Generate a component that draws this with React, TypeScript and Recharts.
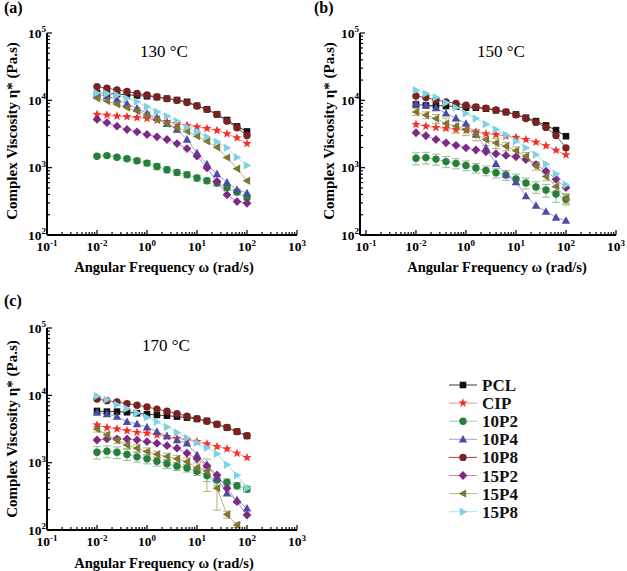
import React from 'react';
import { LineChart, Line, XAxis, YAxis, ErrorBar } from 'recharts';

const FONT = "'Liberation Serif', 'Times New Roman', serif";

// angular frequency (rad/s), 5 points per decade
const freq = [0.1, 0.158, 0.251, 0.398, 0.631, 1, 1.58, 2.51, 3.98, 6.31, 10, 15.8, 25.1, 39.8, 63.1, 100];

// tick labels exactly as printed on the figure
const xTickValues = [0.01, 0.1, 1, 10, 100, 1000];
const xTickExp = ['-1', '-2', '0', '1', '2', '3'];
const yTickValues = [100, 1000, 10000, 100000];
const yTickExp = ['2', '3', '4', '5'];

const temps = ['130 °C', '150 °C', '170 °C'];
const panelTags = ['(a)', '(b)', '(c)'];

// 130 °C
const pcl130 = [12700, 12600, 12400, 12100, 11800, 11500, 11200, 10600, 10100, 9500, 8300, 7350, 6200, 5100, 4100, 3450];
const cip130 = [6180, 6040, 5830, 5710, 5520, 5380, 5080, 4810, 4490, 4240, 4050, 3820, 3570, 3180, 2770, 2280];
const p102_130 = [1480, 1510, 1430, 1360, 1270, 1170, 1040, 933, 851, 787, 702, 640, 592, 508, 434, 361];
const p104_130 = [12100, 11600, 10300, 8900, 7600, 6400, 5520, 4490, 3690, 2620, 1660, 1130, 805, 604, 470, 419];
const p108_130 = [16000, 15100, 14300, 13500, 12700, 12000, 11200, 10600, 10000, 9250, 8230, 7350, 6180, 4910, 3910, 3010];
const p152_130 = [5200, 4650, 4130, 3690, 3410, 3110, 2870, 2620, 2280, 1920, 1480, 990, 625, 395, 314, 296];
const p154_130 = [10700, 9770, 8710, 7780, 6920, 6030, 5200, 4490, 3920, 3480, 2940, 2470, 2010, 1410, 966, 640];
const p158_130 = [12800, 12600, 12000, 10700, 9570, 8050, 6780, 5830, 4910, 3990, 3410, 2870, 2420, 1970, 1430, 1080];
const err102_130 = [60, 60, 70, 80, 100, 110, 110, 100, 90, 80, 70, 60, 60, 50, 40, 30];

// 150 °C
const pcl150 = [8710, 8410, 8410, 8220, 8050, 7780, 7780, 7520, 7100, 6690, 6180, 5520, 4910, 4240, 3610, 2930];
const cip150 = [4390, 4130, 3950, 3850, 3690, 3590, 3390, 3190, 3090, 2930, 2810, 2620, 2390, 2110, 1810, 1550];
const p102_150 = [1380, 1410, 1340, 1230, 1160, 1080, 991, 908, 842, 778, 681, 592, 516, 465, 406, 339];
const p104_150 = [8930, 8490, 7690, 6400, 5430, 4520, 3110, 1970, 1140, 787, 611, 379, 273, 223, 182, 164];
const p108_150 = [11600, 11000, 10100, 9500, 9020, 8480, 8000, 7650, 7210, 6730, 6120, 5380, 4700, 3960, 3010, 1970];
const p152_150 = [3300, 2980, 2620, 2340, 2150, 1970, 1830, 1720, 1610, 1520, 1450, 1320, 1110, 891, 675, 505];
const p154_150 = [6730, 6030, 5350, 4530, 4140, 3690, 3110, 2620, 2330, 2080, 1790, 1480, 1070, 741, 526, 352];
const p158_150 = [14100, 12600, 11100, 9230, 7780, 6400, 5380, 4430, 3690, 3050, 2470, 1970, 1560, 1130, 805, 557];
const err102_150 = [280, 280, 250, 230, 200, 180, 160, 150, 140, 130, 120, 110, 100, 100, 100, 60];
const err154_150 = [800, 700, 800, 900, 900, 700, 600, 500, 400, 300, 250, 200, 150, 100, 80, 60];

// 170 °C
const pcl170 = [5860, 5730, 5730, 5610, 5420, 5240, 5110, 4990, 4830, 4670, 4460, 4170, 3720, 3310, 2890, 2500];
const cip170 = [3630, 3310, 3170, 2990, 2830, 2740, 2580, 2430, 2300, 2170, 2050, 1900, 1730, 1600, 1380, 1190];
const p102_170 = [1430, 1480, 1430, 1320, 1220, 1140, 1050, 966, 887, 834, 745, 645, 553, 513, 454, 404];
const p104_170 = [5530, 5290, 4820, 4060, 3760, 3360, 2890, 2490, 2170, 1940, 1300, 925, 593, 351, 279, 210];
const p108_170 = [8790, 8340, 7980, 7530, 7130, 6730, 6240, 5810, 5350, 4910, 4510, 4120, 3720, 3330, 2890, 2510];
const p152_170 = [2170, 2250, 2250, 2250, 2170, 2050, 1940, 1790, 1640, 1380, 1140, 902, 656, 417, 263, 167];
const p154_170 = [3150, 2580, 2170, 1830, 1640, 1460, 1330, 1230, 1140, 1030, 843, 753, 417, 170, 119, null];
const p158_170 = [9790, 8630, 7250, 6340, 5470, 4700, 4030, 3390, 2810, 2330, 1980, 1660, 1360, 933, 650, 417];
const err102_170 = [300, 300, 280, 240, 200, 180, 160, 150, 120, 110, 100, 120, 100, 60, 50, 40];
const err154_170 = [300, 250, 250, 200, 200, 200, 150, 150, 150, 150, 150, 380, 220, 20, 10, 0];

const series = [
  { key: 'pcl', name: 'PCL', color: '#111111', line: '#3a3a3a', shape: 'square' },
  { key: 'cip', name: 'CIP', color: '#f2302c', line: '#f28a86', shape: 'star' },
  { key: 'p102', name: '10P2', color: '#26803a', line: '#9fcaa3', shape: 'circle' },
  { key: 'p104', name: '10P4', color: '#4c4ca4', line: '#a0a0d6', shape: 'triUp' },
  { key: 'p108', name: '10P8', color: '#7a2222', line: '#8a4c4c', shape: 'circle' },
  { key: 'p152', name: '15P2', color: '#7d2a85', line: '#c585cb', shape: 'diamond' },
  { key: 'p154', name: '15P4', color: '#7e7633', line: '#bab384', shape: 'triLeft' },
  { key: 'p158', name: '15P8', color: '#80d2e3', line: '#abe2ed', shape: 'triRight' },
];

const rows130 = freq.map((f, i) => ({
  f, pcl: pcl130[i], cip: cip130[i], p102: p102_130[i], p104: p104_130[i], p108: p108_130[i],
  p152: p152_130[i], p154: p154_130[i], p158: p158_130[i], e102: err102_130[i],
}));
const rows150 = freq.map((f, i) => ({
  f, pcl: pcl150[i], cip: cip150[i], p102: p102_150[i], p104: p104_150[i], p108: p108_150[i],
  p152: p152_150[i], p154: p154_150[i], p158: p158_150[i], e102: err102_150[i], e154: err154_150[i],
}));
const rows170 = freq.map((f, i) => ({
  f, pcl: pcl170[i], cip: cip170[i], p102: p102_170[i], p104: p104_170[i], p108: p108_170[i],
  p152: p152_170[i], p154: p154_170[i], p158: p158_170[i], e102: err102_170[i], e154: err154_170[i],
}));

// major + minor log ticks
const logTicks = (lo: number, hi: number) => {
  const out: number[] = [];
  for (let d = lo; d < hi * 0.99; d *= 10) for (let k = 1; k < 10; k++) out.push(d * k);
  out.push(hi);
  return out;
};
const xTicks = logTicks(0.01, 1000);
const yTicks = logTicks(100, 100000);
const findIdx = (arr: number[], v: number) => arr.findIndex((t) => Math.abs(t - v) / t < 1e-6);

function XTick(props: any) {
  const { x, y, payload } = props;
  const i = findIdx(xTickValues, payload.value);
  const major = i >= 0;
  return (
    <g>
      <line x1={x} x2={x} y1={y} y2={y - (major ? 5 : 3)} stroke="#000" strokeWidth={1.2} />
      {major && (
        <text x={x} y={y + 16} textAnchor="middle" fontFamily={FONT} fontWeight="bold" fontSize={13.5} fill="#000">
          10<tspan dy={-5.5} fontSize={9}>{xTickExp[i]}</tspan>
        </text>
      )}
    </g>
  );
}

function YTick(props: any) {
  const { x, y, payload } = props;
  const i = findIdx(yTickValues, payload.value);
  const major = i >= 0;
  return (
    <g>
      <line x1={x} x2={x + (major ? 5 : 3)} y1={y} y2={y} stroke="#000" strokeWidth={1.2} />
      {major && (
        <text x={x - 1} y={y + 4.5} textAnchor="end" fontFamily={FONT} fontWeight="bold" fontSize={13.5} fill="#000">
          10<tspan dy={-5.5} fontSize={9}>{yTickExp[i]}</tspan>
        </text>
      )}
    </g>
  );
}

function Marker({ shape, cx, cy, fill }: { shape: string; cx: number; cy: number; fill: string }) {
  if (shape === 'square') return <rect x={cx - 3.3} y={cy - 3.3} width={6.6} height={6.6} fill={fill} />;
  if (shape === 'circle') return <circle cx={cx} cy={cy} r={3.7} fill={fill} />;
  if (shape === 'diamond')
    return <polygon points={`${cx},${cy - 4.4} ${cx + 4.4},${cy} ${cx},${cy + 4.4} ${cx - 4.4},${cy}`} fill={fill} />;
  if (shape === 'triUp')
    return <polygon points={`${cx},${cy - 4.4} ${cx + 4.2},${cy + 3.2} ${cx - 4.2},${cy + 3.2}`} fill={fill} />;
  if (shape === 'triLeft')
    return <polygon points={`${cx - 4.4},${cy} ${cx + 3.2},${cy - 4.2} ${cx + 3.2},${cy + 4.2}`} fill={fill} />;
  if (shape === 'triRight')
    return <polygon points={`${cx + 4.4},${cy} ${cx - 3.2},${cy - 4.2} ${cx - 3.2},${cy + 4.2}`} fill={fill} />;
  // star
  const pts: string[] = [];
  for (let k = 0; k < 10; k++) {
    const a = (-90 + k * 36) * (Math.PI / 180);
    const r = k % 2 === 0 ? 4.8 : 2.0;
    pts.push(`${cx + r * Math.cos(a)},${cy + r * Math.sin(a)}`);
  }
  return <polygon points={pts.join(' ')} fill={fill} />;
}

type PanelProps = {
  width: number;
  height: number;
  top: number;
  right: number;
  yAxisWidth: number;
  xAxisHeight: number;
  xDomain: [number, number];
  rows: any[];
  errs: string[];
};

function Panel({ width, height, top, right, yAxisWidth, xAxisHeight, xDomain, rows, errs }: PanelProps) {
  return (
    <LineChart width={width} height={height} data={rows} margin={{ top, right, left: 0, bottom: 0 }}>
      <XAxis
        dataKey="f"
        type="number"
        scale="log"
        domain={xDomain}
        allowDataOverflow
        ticks={xTicks}
        interval={0}
        tick={(p: any) => <XTick {...p} />}
        tickLine={false}
        tickSize={0}
        tickMargin={0}
        height={xAxisHeight}
        axisLine={{ stroke: '#000', strokeWidth: 2 }}
      />
      <YAxis
        type="number"
        scale="log"
        domain={[100, 100000]}
        allowDataOverflow
        ticks={yTicks}
        interval={0}
        tick={(p: any) => <YTick {...p} />}
        tickLine={false}
        tickSize={0}
        tickMargin={0}
        width={yAxisWidth}
        axisLine={{ stroke: '#000', strokeWidth: 2 }}
      />
      {series.map((s) => (
        <Line
          key={s.key}
          dataKey={s.key}
          name={s.name}
          stroke={s.line}
          strokeWidth={1}
          activeDot={false}
          isAnimationActive={false}
          dot={(p: any) =>
            p.cx == null || p.cy == null || p.value == null ? (
              <g key={`${s.key}-${p.index}`} />
            ) : (
              <Marker key={`${s.key}-${p.index}`} shape={s.shape} cx={p.cx} cy={p.cy} fill={s.color} />
            )
          }
        >
          {s.key === 'p102' && errs.includes('e102') && (
            <ErrorBar dataKey="e102" width={4} stroke="#8fbf93" strokeWidth={1} direction="y" />
          )}
          {s.key === 'p154' && errs.includes('e154') && (
            <ErrorBar dataKey="e154" width={4} stroke="#b8b07a" strokeWidth={1} direction="y" />
          )}
        </Line>
      ))}
    </LineChart>
  );
}

const YTitle = ({ x, y }: { x: number; y: number }) => (
  <text
    x={x}
    y={y}
    transform={`rotate(-90 ${x} ${y})`}
    textAnchor="middle"
    fontFamily={FONT}
    fontWeight="bold"
    fontSize={15}
    fill="#000"
  >
    Complex Viscosity η* (Pa.s)
  </text>
);

const XTitle = ({ x, y }: { x: number; y: number }) => (
  <text x={x} y={y} textAnchor="middle" fontFamily={FONT} fontWeight="bold" fontSize={14.5} fill="#000">
    Angular Frequency ω (rad/s)
  </text>
);

export default function App() {
  return (
    <div style={{ position: 'absolute', left: 0, top: 0, width: 627, height: 571, background: '#fff' }}>
      <div style={{ position: 'absolute', left: 0, top: 0 }}>
        <Panel width={310} height={280} top={33} right={13} yAxisWidth={47} xAxisHeight={45} xDomain={[0.01, 1000]} rows={rows130} errs={['e102']} />
      </div>
      <div style={{ position: 'absolute', left: 311, top: 0 }}>
        <Panel width={316} height={280} top={33} right={11} yAxisWidth={49} xAxisHeight={45} xDomain={[0.0076, 1000]} rows={rows150} errs={['e102', 'e154']} />
      </div>
      <div style={{ position: 'absolute', left: 0, top: 280 }}>
        <Panel width={310} height={291} top={48} right={13} yAxisWidth={47} xAxisHeight={41} xDomain={[0.01, 1000]} rows={rows170} errs={['e102', 'e154']} />
      </div>
      <svg width={627} height={571} style={{ position: 'absolute', left: 0, top: 0, pointerEvents: 'none' }}>
        <text x={4} y={13} fontFamily={FONT} fontWeight="bold" fontSize={16}>{panelTags[0]}</text>
        <text x={314} y={13} fontFamily={FONT} fontWeight="bold" fontSize={16}>{panelTags[1]}</text>
        <text x={4} y={306} fontFamily={FONT} fontWeight="bold" fontSize={16}>{panelTags[2]}</text>
        <text x={164} y={57} textAnchor="middle" fontFamily={FONT} fontSize={17}>{temps[0]}</text>
        <text x={501} y={57} textAnchor="middle" fontFamily={FONT} fontSize={17}>{temps[1]}</text>
        <text x={166} y={351} textAnchor="middle" fontFamily={FONT} fontSize={17}>{temps[2]}</text>
        <YTitle x={16.5} y={131} />
        <YTitle x={334} y={131} />
        <YTitle x={16.5} y={429} />
        <XTitle x={164} y={272} />
        <XTitle x={497} y={272} />
        <XTitle x={164} y={568} />
        {series.map((s, i) => {
          const y = 385 + i * 18.1;
          return (
            <g key={s.key}>
              <line x1={449} x2={477} y1={y} y2={y} stroke={s.line} strokeWidth={1} />
              <Marker shape={s.shape} cx={463} cy={y} fill={s.color} />
              <text x={482} y={y + 6} fontFamily={FONT} fontWeight="bold" fontSize={17} fill="#111">
                {s.name}
              </text>
            </g>
          );
        })}
      </svg>
    </div>
  );
}
